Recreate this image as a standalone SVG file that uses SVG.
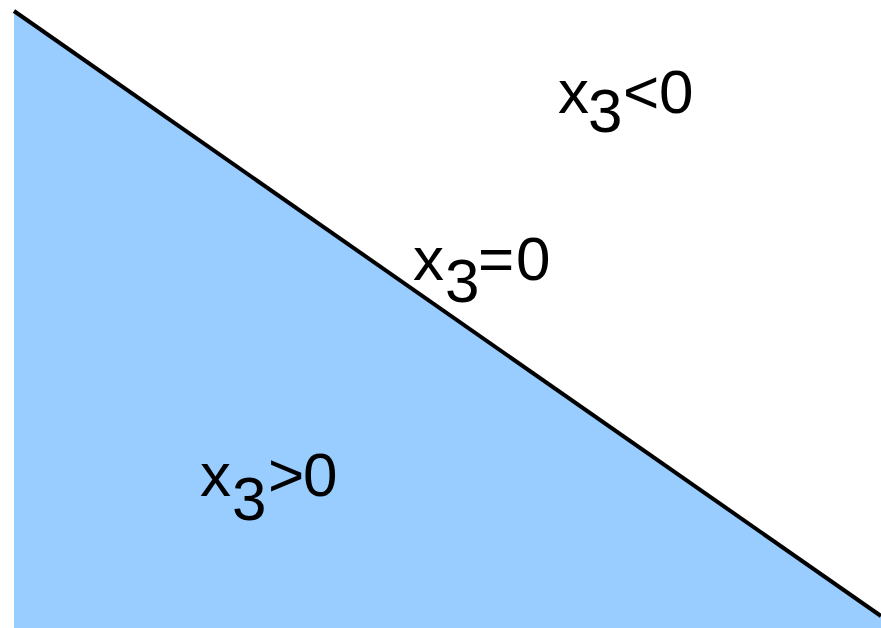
<svg xmlns="http://www.w3.org/2000/svg" width="881" height="628" viewBox="0 0 881 628">
<style>
.t{font-family:"Liberation Sans",Arial,sans-serif;font-size:62px;fill:#000}
</style>
<rect width="881" height="628" fill="#fff"/>
<g id="region">
<polygon points="14,11 881,617 881,628 14,628" fill="#99ccff"/>
</g>
<g id="connectors">
<line x1="14" y1="11" x2="881" y2="616" stroke="#000" stroke-width="4"/>
</g>
<g id="label-lt">
<text class="t" x="558" y="113">x</text>
<text class="t" x="588" y="132">3</text>
<text class="t" x="623" y="113">&lt;</text>
<text class="t" x="659" y="113">0</text>
</g>
<g id="label-eq">
<text class="t" x="413" y="280">x</text>
<text class="t" x="445" y="302">3</text>
<text class="t" x="478" y="280">=</text>
<text class="t" x="516" y="280">0</text>
</g>
<g id="label-gt">
<text class="t" x="200" y="496">x</text>
<text class="t" x="232" y="520">3</text>
<text class="t" x="268" y="496">&gt;</text>
<text class="t" x="303" y="496">0</text>
</g>
</svg>
